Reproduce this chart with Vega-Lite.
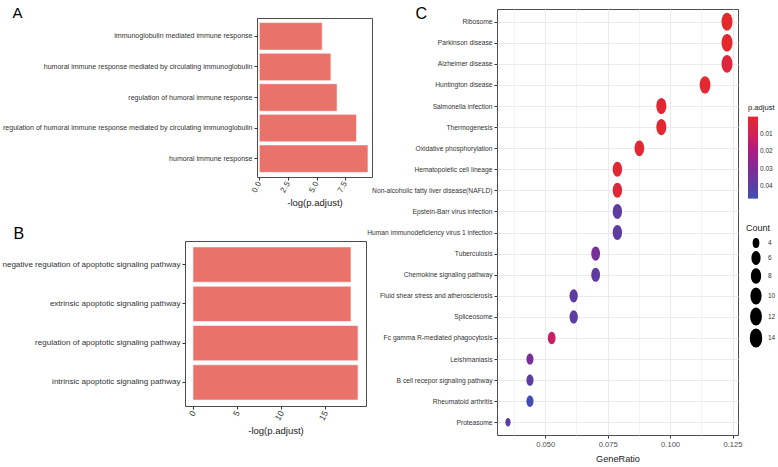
{
  "$schema": "https://vega.github.io/schema/vega-lite/v6.json",
  "background": "white",
  "padding": {"left": 0, "top": 3, "right": 0, "bottom": 0},
  "config": {
    "font": "Liberation Sans",
    "view": {"stroke": "#4d4d4d", "strokeWidth": 1},
    "axis": {"domain": false, "labelColor": "#333333", "titleColor": "#1a1a1a", "tickColor": "#333333", "titleFontWeight": "normal", "tickSize": 3, "labelPadding": 2}
  },
  "datasets": {
    "A": [
      {"term": "immunoglobulin mediated immune response", "v": 5.5},
      {"term": "humoral immune response mediated by circulating immunoglobulin", "v": 6.26},
      {"term": "regulation of humoral immune response", "v": 6.8},
      {"term": "regulation of humoral immune response mediated by circulating immunoglobulin", "v": 8.5},
      {"term": "humoral immune response", "v": 9.5}
    ],
    "B": [
      {"term": "negative regulation of apoptotic signaling pathway", "v": 17.9},
      {"term": "extrinsic apoptotic signaling pathway", "v": 17.9},
      {"term": "regulation of apoptotic signaling pathway", "v": 18.7},
      {"term": "intrinsic apoptotic signaling pathway", "v": 18.7}
    ],
    "C": [
      {"term": "Ribosome", "ratio": 0.1228, "count": 14, "padj": 0.0006},
      {"term": "Parkinson disease", "ratio": 0.1228, "count": 14, "padj": 0.0008},
      {"term": "Alzheimer disease", "ratio": 0.1228, "count": 14, "padj": 0.004},
      {"term": "Huntington disease", "ratio": 0.114, "count": 13, "padj": 0.0015},
      {"term": "Salmonella infection", "ratio": 0.0965, "count": 11, "padj": 0.002},
      {"term": "Thermogenesis", "ratio": 0.0965, "count": 11, "padj": 0.002},
      {"term": "Oxidative phosphorylation", "ratio": 0.0877, "count": 10, "padj": 0.0018},
      {"term": "Hematopoietic cell lineage", "ratio": 0.0789, "count": 9, "padj": 0.0022},
      {"term": "Non-alcoholic fatty liver disease(NAFLD)", "ratio": 0.0789, "count": 9, "padj": 0.003},
      {"term": "Epstein-Barr virus infection", "ratio": 0.0789, "count": 9, "padj": 0.039},
      {"term": "Human immunodeficiency virus 1 infection", "ratio": 0.0789, "count": 9, "padj": 0.039},
      {"term": "Tuberculosis", "ratio": 0.0702, "count": 8, "padj": 0.032},
      {"term": "Chemokine signaling pathway", "ratio": 0.0702, "count": 8, "padj": 0.038},
      {"term": "Fluid shear stress and atherosclerosis", "ratio": 0.0614, "count": 7, "padj": 0.039},
      {"term": "Spliceosome", "ratio": 0.0614, "count": 7, "padj": 0.039},
      {"term": "Fc gamma R-mediated phagocytosis", "ratio": 0.0526, "count": 6, "padj": 0.013},
      {"term": "Leishmaniasis", "ratio": 0.0439, "count": 5, "padj": 0.032},
      {"term": "B cell recepor signaling pathway", "ratio": 0.0439, "count": 5, "padj": 0.039},
      {"term": "Rheumatoid arthritis", "ratio": 0.0439, "count": 5, "padj": 0.046},
      {"term": "Proteasome", "ratio": 0.0351, "count": 4, "padj": 0.039}
    ]
  },
  "concat": [
    {"width": 1, "height": 1, "data": {"values": []}, "mark": "point", "encoding": {}, "view": {"stroke": null}},
    {"width": 1, "height": 1, "data": {"values": []}, "mark": "point", "encoding": {}, "view": {"stroke": null}},
    {
      "concat": [
        {"width": 1, "height": 1, "data": {"values": []}, "mark": "point", "encoding": {}, "view": {"stroke": null}},
        {
          "width": 115,
          "height": 159,
          "data": {"name": "A"},
          "encoding": {
            "x": {"field": "v", "type": "quantitative",
              "scale": {"domain": [-0.2, 9.85], "nice": false, "zero": false},
              "axis": {"title": "-log(p.adjust)", "values": [0, 2.5, 5, 7.5], "format": ".1f", "labelAngle": -60, "labelFontSize": 8, "titleFontSize": 9.5, "grid": false}}
          },
          "layer": [
            {
              "mark": {"type": "bar", "color": "#E9736B", "stroke": "white", "strokeWidth": 0.6},
              "encoding": {
                "y": {"field": "term", "type": "nominal", "sort": null,
                  "scale": {"paddingInner": 0.1, "paddingOuter": 0.15},
                  "axis": {"title": "A", "titleAngle": 0, "titleX": -245, "titleY": -13, "titleAlign": "left", "titleBaseline": "top", "titleFontSize": 15, "titleColor": "black",
                    "labelFontSize": 7.05, "labelLimit": 400, "grid": false}}
              }
            },
            {
              "mark": {"type": "bar", "color": "#E9736B", "opacity": 0},
              "encoding": {
                "y": {"field": "term", "type": "nominal", "sort": null,
                  "scale": {"paddingInner": 0.1, "paddingOuter": 0.15},
                  "axis": {"orient": "left", "title": "B", "labels": false, "ticks": false, "domain": false, "grid": false,
                    "titleAngle": 0, "titleX": -244, "titleY": 207, "titleAlign": "left", "titleBaseline": "top", "titleFontSize": 16, "titleColor": "black"}}
              }
            }
          ],
          "resolve": {"axis": {"y": "independent"}}
        },
        {"width": 1, "height": 1, "data": {"values": []}, "mark": "point", "encoding": {}, "view": {"stroke": null}},
        {
          "width": 181,
          "height": 165,
          "data": {"name": "B"},
          "mark": {"type": "bar", "color": "#E9736B", "stroke": "white", "strokeWidth": 0.6},
          "encoding": {
            "y": {"field": "term", "type": "nominal", "sort": null,
              "scale": {"paddingInner": 0.1, "paddingOuter": 0.15},
              "axis": {"title": null, "labelFontSize": 8.05, "labelLimit": 400, "grid": false}},
            "x": {"field": "v", "type": "quantitative",
              "scale": {"domain": [-0.9, 19.6], "nice": false, "zero": false},
              "axis": {"title": "-log(p.adjust)", "values": [0, 5, 10, 15], "format": "d", "labelAngle": -60, "labelFontSize": 8.5, "titleFontSize": 9.5, "grid": false}}
          }
        }
      ],
      "columns": 2,
      "align": "none",
      "spacing": {"row": -2, "column": 0}
    },
    {
      "width": 241,
      "height": 426,
      "data": {"name": "C"},
      "mark": {"type": "point", "filled": true, "opacity": 1, "shape": "M0,-1A0.62,1,0,1,1,0,1A0.62,1,0,1,1,0,-1Z"},
      "encoding": {
        "y": {"field": "term", "type": "nominal", "sort": null,
          "scale": {"type": "point", "padding": 0.6},
          "axis": {"title": "C", "titleAngle": 0, "titleX": -82, "titleY": -4, "titleAlign": "left", "titleBaseline": "top", "titleFontSize": 16, "titleColor": "black",
            "labelFontSize": 6.7, "labelLimit": 400, "grid": true, "gridColor": "#ebebeb", "gridWidth": 1}},
        "x": {"field": "ratio", "type": "quantitative",
          "scale": {"domain": [0.0307, 0.1272], "nice": false, "zero": false},
          "axis": {"title": "GeneRatio", "titleFontSize": 9.2, "titlePadding": 7,
            "values": [0.0375, 0.05, 0.0625, 0.075, 0.0875, 0.1, 0.1125, 0.125],
            "format": ".3f",
            "labelExpr": "round(datum.value*10000) % 250 == 0 ? datum.label : ''",
            "labelOverlap": false, "labelFontSize": 7.6, "labelColor": "#4d4d4d",
            "tickOpacity": {"condition": {"test": "round(datum.value*10000) % 250 == 0", "value": 1}, "value": 0},
            "grid": true, "gridColor": "#ebebeb",
            "gridWidth": {"condition": {"test": "round(datum.value*10000) % 250 == 0", "value": 1}, "value": 0.6}}},
        "color": {"field": "padj", "type": "quantitative",
          "scale": {"domain": [0.047, 0.04, 0.03, 0.02, 0.01, 0.0003], "range": ["#3b50b2", "#5a3ea3", "#7e2b96", "#ad1a84", "#d51f55", "#e4292b"], "interpolate": "lab", "nice": false, "zero": false},
          "legend": {"title": "p.adjust", "values": [0.01, 0.02, 0.03, 0.04], "format": ".2f", "orient": "none", "legendX": 748, "legendY": 101,
            "gradientLength": 82, "gradientThickness": 10, "titleFontSize": 7.6, "titleFontWeight": "normal", "titleColor": "#1a1a1a", "labelFontSize": 6.5, "labelColor": "#333333", "gradientStrokeWidth": 0}},
        "size": {"field": "count", "type": "quantitative",
          "scale": {"domain": [4, 5, 9, 14], "range": [72, 130, 225, 313], "zero": false},
          "legend": {"title": "Count", "values": [4, 6, 8, 10, 12, 14], "orient": "none", "legendX": 746, "legendY": 221,
            "symbolFillColor": "black", "symbolStrokeColor": "black", "symbolOpacity": 1, "titleFontSize": 9, "titleFontWeight": "normal", "titleColor": "#1a1a1a", "labelFontSize": 6.5, "labelColor": "#333333", "labelOffset": 2, "rowPadding": -5}}
      }
    }
  ],
  "columns": 2,
  "align": "none",
  "spacing": {"row": 0, "column": -7}
}
